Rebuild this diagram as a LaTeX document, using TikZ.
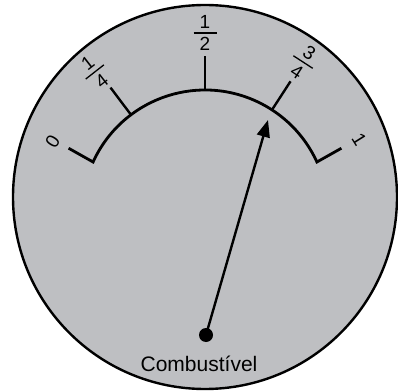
\documentclass[tikz,border=0pt]{standalone}
\usepackage{fontspec}
\setmainfont{Liberation Sans}
\usetikzlibrary{arrows.meta,calc}
\definecolor{dialgray}{RGB}{190,191,194}
\tikzset{
  rim/.style={draw=black,line width=2.4pt,fill=dialgray},
  scalearc/.style={draw=black,line width=2.8pt,line join=miter},
  tickline/.style={draw=black,line width=2.4pt},
  fracbar/.style={draw=black,line width=1.3pt},
  digit/.style={inner sep=0pt,font=\fontsize{19}{21}\selectfont,transform shape},
  label/.style={inner sep=0pt,font=\fontsize{21}{24}\selectfont},
  needle/.style={draw=black,line width=2.4pt,-{Triangle[length=17pt,width=13pt]}},
}
\begin{document}
\begin{tikzpicture}[x=1pt,y=1pt]
\useasboundingbox (0,0) rectangle (398,391);
% dial face
\node[rim,circle,minimum size=384pt,inner sep=0pt] (face) at (205,194) {};
% scale arc centre
\coordinate (C) at (205,178);
\draw[scalearc] ($(C)+(154.6:151)$) coordinate (e0) -- ($(C)+(155.5:123)$) coordinate (a0)
  arc[start angle=155.5,end angle=24.5,radius=123] coordinate (a1) -- ($(C)+(25.4:151)$) coordinate (e1);
% ticks
\draw[tickline] ($(C)+(127:122)$) coordinate (t1) -- ($(C)+(127:157)$) coordinate (t1o);
\draw[tickline] ($(C)+(90:122)$) coordinate (t2) -- ($(C)+(90:157)$) coordinate (t2o);
\draw[tickline] ($(C)+(57:122)$) coordinate (t3) -- ($(C)+(57:157)$) coordinate (t3o);
% labels 0 and 1
\node[digit,rotate=58] (l0) at ($(C)+(155:168)$) {0};
\node[digit,rotate=-58] (l1) at ($(C)+(25.5:171)$) {1};
% fractions
\begin{scope}[shift={($(C)+(128:179)$)},rotate=38]
  \node[digit,anchor=south] (q1n) at (0,4.5) {1};
  \node[digit,anchor=north] (q1d) at (0,-4.5) {4};
  \draw[fracbar] (-11.5,0) -- (11.5,0);
\end{scope}
\begin{scope}[shift={($(C)+(90:180)$)}]
  \node[digit,anchor=south] (q2n) at (0,4.5) {1};
  \node[digit,anchor=north] (q2d) at (0,-4.5) {2};
  \draw[fracbar] (-11.5,0) -- (11.5,0);
\end{scope}
\begin{scope}[shift={($(C)+(57:180)$)},rotate=-33]
  \node[digit,anchor=south] (q3n) at (0,4.5) {3};
  \node[digit,anchor=north] (q3d) at (0,-4.5) {4};
  \draw[fracbar] (-11.5,0) -- (11.5,0);
\end{scope}
% needle
\coordinate (pivot) at (206,56);
\coordinate (tip) at (268,271);
\draw[needle] (pivot) -- (tip);
\fill (pivot) circle[radius=7];
\node[label] (name) at (199,27) {Combustível};
\end{tikzpicture}
\end{document}
